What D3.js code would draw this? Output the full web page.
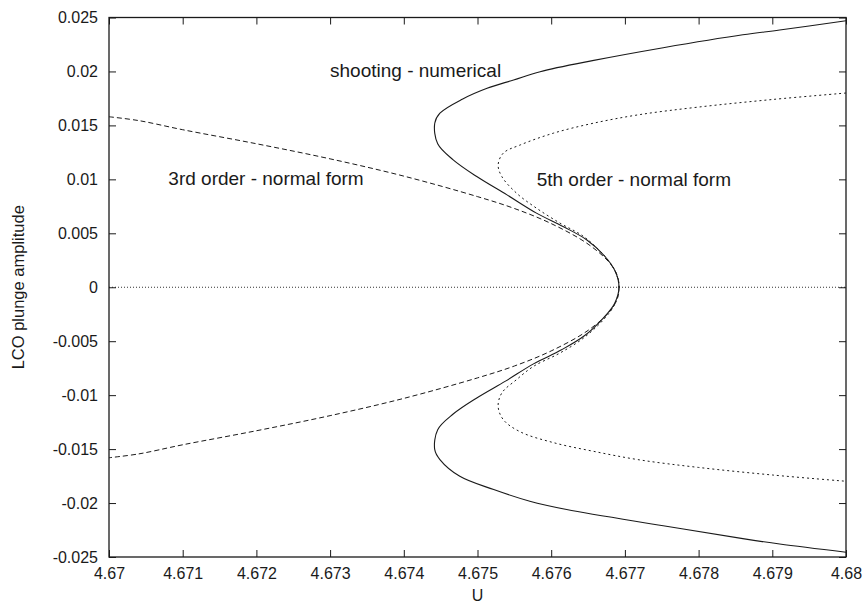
<!DOCTYPE html>
<html>
<head>
<meta charset="utf-8">
<script src="https://cdn.jsdelivr.net/npm/d3@7"></script>
<style>
  html, body { margin: 0; padding: 0; background: #fff; }
  svg { display: block; font-family: "Liberation Sans", Arial, Helvetica, sans-serif; }
</style>
</head>
<body>
<svg id="chart" width="865" height="605"></svg>
<script>
// ---------- data ----------
const xTicks = [4.67, 4.671, 4.672, 4.673, 4.674, 4.675, 4.676, 4.677, 4.678, 4.679, 4.68];
const xTickLabels = ["4.67", "4.671", "4.672", "4.673", "4.674", "4.675", "4.676", "4.677", "4.678", "4.679", "4.68"];
const yTicks = [0.025, 0.02, 0.015, 0.01, 0.005, 0, -0.005, -0.01, -0.015, -0.02, -0.025];
const yTickLabels = ["0.025", "0.02", "0.015", "0.01", "0.005", "0", "-0.005", "-0.01", "-0.015", "-0.02", "-0.025"];

// shooting - numerical (solid)
const shootingUpperU = [4.68, 4.6791, 4.6786, 4.67752, 4.67656, 4.67585, 4.67549, 4.67513, 4.67480, 4.67449, 4.67442, 4.67446, 4.67467, 4.67499, 4.67540, 4.67580, 4.67616, 4.67648, 4.67673, 4.67687, 4.67692];
const shootingUpperA = [0.0247, 0.02384, 0.0234, 0.0222, 0.0210, 0.01998, 0.01921, 0.01844, 0.01745, 0.01613, 0.0152, 0.01329, 0.01181, 0.01026, 0.00856, 0.00687, 0.00563, 0.0044, 0.00285, 0.00146, 0];
const shootingLowerU = [4.67692, 4.67686, 4.67670, 4.67645, 4.67614, 4.67576, 4.67538, 4.67499, 4.67467, 4.67446, 4.67442, 4.67449, 4.67476, 4.67522, 4.67571, 4.67621, 4.67752, 4.6786, 4.6791, 4.68];
const shootingLowerA = [0, -0.0015, -0.0029, -0.0045, -0.0058, -0.0071, -0.0087, -0.01026, -0.01175, -0.0132, -0.01505, -0.01597, -0.01752, -0.01875, -0.01983, -0.0206, -0.0221, -0.0233, -0.0238, -0.02456];

// 3rd order - normal form (dashed)
const thirdUpperU = [4.670, 4.6704, 4.671, 4.672, 4.673, 4.674, 4.675, 4.6755, 4.676, 4.6765, 4.6768, 4.6769, 4.67692];
const thirdUpperA = [0.0158, 0.01545, 0.0146, 0.0133, 0.0119, 0.0103, 0.0084, 0.0073, 0.0059, 0.0040, 0.0022, 0.0010, 0];
const thirdLowerU = [4.67692, 4.6769, 4.6768, 4.6765, 4.676, 4.6755, 4.675, 4.674, 4.673, 4.672, 4.671, 4.6704, 4.670];
const thirdLowerA = [0, -0.0010, -0.0022, -0.0040, -0.0059, -0.0073, -0.0084, -0.0103, -0.0119, -0.0133, -0.0146, -0.01545, -0.0158];

// 5th order - normal form (dotted)
const fifthUpperU = [4.68, 4.679, 4.678, 4.6772, 4.67657, 4.67603, 4.67558, 4.67535, 4.67528, 4.67533, 4.67553, 4.6758, 4.67612, 4.67644, 4.67673, 4.67687, 4.67692];
const fifthUpperA = [0.0180, 0.0174, 0.0167, 0.0160, 0.0152, 0.01428, 0.01319, 0.01243, 0.01134, 0.01026, 0.00872, 0.00733, 0.00594, 0.0047, 0.00285, 0.00146, 0];
const fifthLowerU = [4.67692, 4.67687, 4.67673, 4.67644, 4.67612, 4.67576, 4.67553, 4.67533, 4.67528, 4.67535, 4.67558, 4.67603, 4.67657, 4.6772, 4.678, 4.679, 4.68];
const fifthLowerA = [0, -0.00146, -0.00285, -0.0047, -0.00609, -0.00733, -0.00856, -0.0098, -0.01104, -0.01227, -0.0134, -0.0144, -0.0152, -0.0160, -0.0167, -0.0174, -0.01798];

// zero line (dotted)
const zeroU = [4.67, 4.68];
const zeroA = [0, 0];

const annotations = [
  { text: "shooting - numerical", u: 4.672999, a: 0.01946 },
  { text: "3rd order - normal form", u: 4.670805, a: 0.00949 },
  { text: "5th order - normal form", u: 4.675803, a: 0.0094 }
];

// ---------- layout ----------
const W = 865, H = 605;
const margin = { left: 109, right: 19, top: 17.5, bottom: 48 };
const svg = d3.select("#chart");

const x = d3.scaleLinear().domain([4.67, 4.68]).range([margin.left, W - margin.right]);
const y = d3.scaleLinear().domain([-0.025, 0.025]).range([H - margin.bottom, margin.top]);

const ink = "#1a1a1a";

// curves
const zip = (us, as) => us.map((u, i) => [u, as[i]]);
const line = d3.line().x(d => x(d[0])).y(d => y(d[1]));
const smooth = d3.line().x(d => x(d[0])).y(d => y(d[1])).curve(d3.curveCatmullRom.alpha(0.5));

const plot = svg.append("g");

plot.append("path")
  .attr("d", line(zip(zeroU, zeroA)))
  .attr("fill", "none").attr("stroke", "#333").attr("stroke-width", 1)
  .attr("stroke-dasharray", "1,2");

plot.append("path")
  .attr("d", smooth(zip(thirdUpperU, thirdUpperA).concat(zip(thirdLowerU, thirdLowerA).slice(1))))
  .attr("fill", "none").attr("stroke", ink).attr("stroke-width", 1)
  .attr("stroke-dasharray", "5,3");

plot.append("path")
  .attr("d", smooth(zip(fifthUpperU, fifthUpperA).concat(zip(fifthLowerU, fifthLowerA).slice(1))))
  .attr("fill", "none").attr("stroke", ink).attr("stroke-width", 1)
  .attr("stroke-dasharray", "2,3");

plot.append("path")
  .attr("d", smooth(zip(shootingUpperU, shootingUpperA).concat(zip(shootingLowerU, shootingLowerA).slice(1))))
  .attr("fill", "none").attr("stroke", ink).attr("stroke-width", 1.1);

// axes
const styleAxis = g => {
  g.select(".domain").remove();
  g.selectAll(".tick line").attr("stroke", ink).attr("stroke-width", 1);
  g.selectAll(".tick text").attr("fill", ink).style("font-size", "16px")
    .style("font-family", "'Liberation Sans', Arial, sans-serif");
};

svg.append("g").attr("transform", `translate(0,${H - margin.bottom})`)
  .call(d3.axisBottom(x).tickValues(xTicks).tickFormat((d, i) => xTickLabels[i]).tickSize(-7).tickPadding(11))
  .call(styleAxis);
svg.append("g").attr("transform", `translate(0,${margin.top})`)
  .call(d3.axisTop(x).tickValues(xTicks).tickFormat("").tickSize(-7))
  .call(styleAxis);
svg.append("g").attr("transform", `translate(${margin.left},0)`)
  .call(d3.axisLeft(y).tickValues(yTicks).tickFormat((d, i) => yTickLabels[i]).tickSize(-7).tickPadding(11))
  .call(styleAxis);
svg.append("g").attr("transform", `translate(${W - margin.right},0)`)
  .call(d3.axisRight(y).tickValues(yTicks).tickFormat("").tickSize(-7))
  .call(styleAxis);

// frame
svg.append("rect")
  .attr("x", margin.left).attr("y", margin.top)
  .attr("width", W - margin.left - margin.right)
  .attr("height", H - margin.top - margin.bottom)
  .attr("fill", "none").attr("stroke", ink).attr("stroke-width", 1.3);

// annotations
svg.selectAll("text.anno").data(annotations).enter().append("text")
  .attr("class", "anno")
  .attr("x", d => x(d.u)).attr("y", d => y(d.a))
  .attr("fill", ink).style("font-size", "19px")
  .text(d => d.text);

// axis titles
svg.append("text")
  .attr("x", (margin.left + W - margin.right) / 2).attr("y", 601)
  .attr("text-anchor", "middle").attr("fill", ink).style("font-size", "16px")
  .text("U");
svg.append("text")
  .attr("transform", `translate(24,${(margin.top + H - margin.bottom) / 2}) rotate(-90)`)
  .attr("text-anchor", "middle").attr("fill", ink).style("font-size", "16.5px")
  .text("LCO plunge amplitude");
</script>
</body>
</html>
